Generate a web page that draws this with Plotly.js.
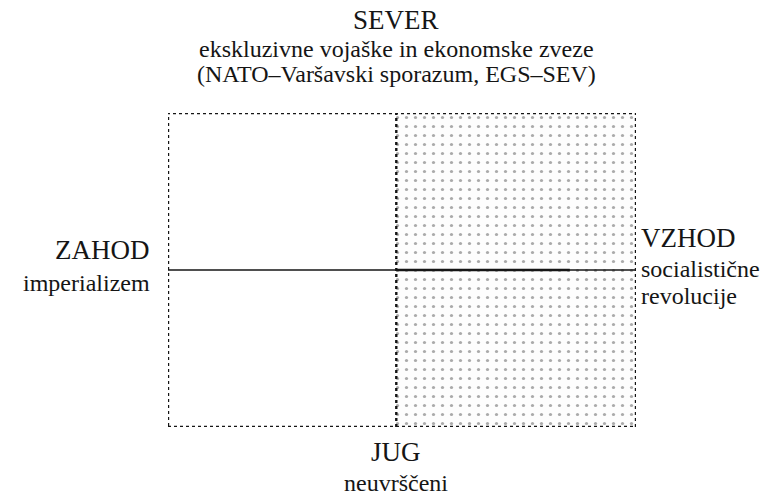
<!DOCTYPE html>
<html><head><meta charset="utf-8">
<script src="https://cdn.plot.ly/plotly-3.0.1.min.js"></script>
<style>html,body{margin:0;padding:0;background:#fff}</style>
</head><body><div id="chart" style="width:771px;height:496px"></div>
<script>
// Conceptual axes: x = West(-1) .. East(+1), y = South(-1) .. North(+1)
const directions = ['SEVER', 'JUG', 'ZAHOD', 'VZHOD'];
const dirSubtitles = [
  'ekskluzivne vojaške in ekonomske zveze<br>(NATO–Varšavski sporazum, EGS–SEV)',
  'neuvrščeni',
  'imperializem',
  'socialistične<br>revolucije'
];
const xBounds = [-1, 0, 1.05];   // west edge, divider, east edge
const yBounds = [-1, 0, 1];      // south edge, divider, north edge
const shadedRegion = ['VZHOD'];

const font = 'Liberation Serif, DejaVu Serif, serif';
const ink = '#151515';
const H = 496, T = 113, B = 69;
const titleSize = 27, subSize = 24;

const traces = [{
  type: 'bar',
  x: [(xBounds[1] + xBounds[2]) / 2],
  y: [yBounds[2] - yBounds[0]],
  base: [yBounds[0]],
  width: [xBounds[2] - xBounds[1]],
  name: shadedRegion[0],
  marker: {color: '#fdfdfd', line: {width: 0},
           pattern: {shape: '.', fgcolor: '#aaaaaa', bgcolor: '#fdfdfd', size: 9, solidity: 0.1}},
  hoverinfo: 'skip', showlegend: false
}];

const shapes = [
  {type: 'rect', x0: xBounds[0], x1: xBounds[2], y0: yBounds[0], y1: yBounds[2],
   line: {color: ink, width: 2.4, dash: 'dot'}},
  {type: 'line', x0: xBounds[1], x1: xBounds[1], y0: yBounds[0], y1: yBounds[2],
   line: {color: ink, width: 2.4, dash: 'dot'}},
  {type: 'line', x0: xBounds[0], x1: xBounds[2], y0: yBounds[1], y1: yBounds[1],
   line: {color: ink, width: 1.3}},
  {type: 'line', x0: xBounds[1], x1: 0.76, y0: yBounds[1], y1: yBounds[1],
   line: {color: ink, width: 2.6}}
];

// place one line of text so that its baseline sits at pixel row `base`
function line(text, size, base, opts) {
  const bottomPx = base + 0.3 * size;
  const py = (H - B - bottomPx) / (H - T - B);
  return Object.assign({xref: 'x', yref: 'paper', y: py, yanchor: 'bottom',
    text: text, showarrow: false, font: {size: size, family: font, color: ink}}, opts);
}
const annotations = [];
const centerOpt = {x: xBounds[1], xanchor: 'center'};
annotations.push(line(directions[0], titleSize, 29, centerOpt));
dirSubtitles[0].split('<br>').forEach((t, i) => annotations.push(line(t, subSize, 57 + 25 * i, centerOpt)));
annotations.push(line(directions[1], titleSize, 461, centerOpt));
annotations.push(line(dirSubtitles[1], subSize, 491, centerOpt));
const westOpt = {xref: 'paper', x: 0, xanchor: 'right', xshift: -16};
annotations.push(line(directions[2], titleSize, 259, westOpt));
annotations.push(line(dirSubtitles[2], subSize, 291, westOpt));
const eastOpt = {xref: 'paper', x: 1, xanchor: 'left', xshift: 3};
annotations.push(line(directions[3], titleSize, 247, eastOpt));
dirSubtitles[3].split('<br>').forEach((t, i) => annotations.push(line(t, subSize, 277 + 27 * i, eastOpt)));

const layout = {
  width: 771, height: 496,
  margin: {l: 168, r: 135, t: T, b: B},
  paper_bgcolor: '#fff', plot_bgcolor: 'rgba(0,0,0,0)',
  xaxis: {range: [xBounds[0], xBounds[2]], visible: false, fixedrange: true},
  yaxis: {range: [yBounds[0], yBounds[2]], visible: false, fixedrange: true},
  shapes: shapes, annotations: annotations, showlegend: false, bargap: 0
};
Plotly.newPlot('chart', traces, layout, {staticPlot: true, displayModeBar: false});
</script></body></html>
